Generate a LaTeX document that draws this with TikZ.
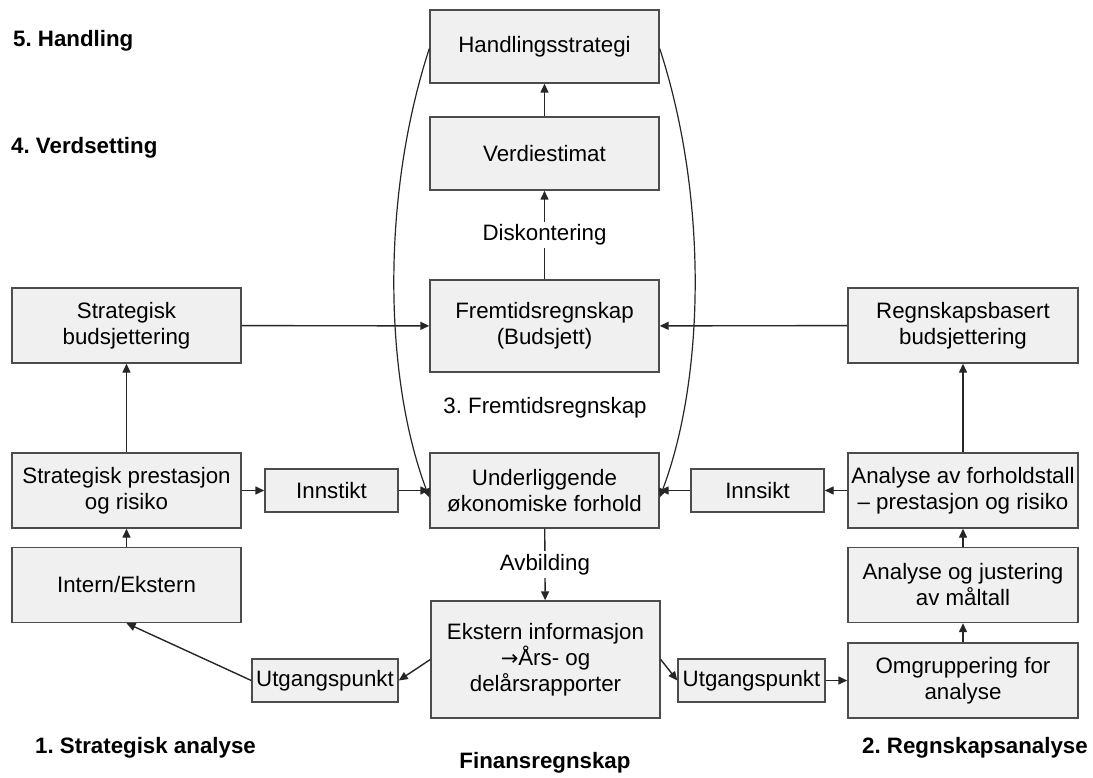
\documentclass[tikz,border=0pt]{standalone}
\usepackage{fontspec}
\setmainfont{Liberation Sans}
\newfontfamily\arrowfont{DejaVu Sans}
\usetikzlibrary{arrows.meta}
\frenchspacing
\begin{document}
\begin{tikzpicture}[x=1pt,y=-1pt,
  every node/.style={font=\fontsize{22.3}{26}\selectfont},
  box/.style={draw=black!70, fill=black!6, line width=1.4pt, align=center, inner sep=0pt},
  bigbox/.style={box, minimum width=229pt, minimum height=75pt},
  smallbox/.style={box, minimum height=43pt},
  arr/.style={-{Triangle[length=9pt,width=8pt]}, line width=1.4pt, draw=black!85},
  lbl/.style={fill=white, inner sep=3pt},
  region/.style={font=\fontsize{22.3}{26}\selectfont\bfseries, inner sep=0pt}
]
\useasboundingbox (0,0) rectangle (1093,778);

% center column
\node[bigbox, minimum height=73pt] (hs) at (544.5,46.5) {Handlingsstrategi};
\node[bigbox, minimum height=73pt] (ve) at (544.5,153.5) {Verdiestimat};
\node[bigbox, minimum height=92pt] (fr) at (544.5,326) {Fremtidsregnskap\\(Budsjett)};
\node[bigbox] (ul) at (544.5,490.5) {Underliggende\\økonomiske forhold};
\node[bigbox, minimum height=117pt] (ek) at (545.5,659.5) {Ekstern informasjon\\{\arrowfont\fontsize{21}{26}\selectfont →}Års- og\\delårsrapporter};

% left column
\node[bigbox] (sb) at (126.5,325.5) {Strategisk\\budsjettering};
\node[bigbox] (sp) at (126.5,490.5) {Strategisk prestasjon\\og risiko};
\node[bigbox] (ie) at (126.5,585) {Intern/Ekstern};

% right column
\node[bigbox, minimum width=230pt] (rb) at (963,325.5) {Regnskapsbasert\\budsjettering};
\node[bigbox, minimum width=230pt] (af) at (963,490.5) {Analyse av forholdstall\\-- prestasjon og risiko};
\node[bigbox, minimum width=230pt] (aj) at (963,585) {Analyse og justering\\av måltall};
\node[bigbox, minimum width=230pt] (om) at (963,680.5) {Omgruppering for\\analyse};

% small boxes
\node[smallbox, minimum width=133pt] (in1) at (331.5,490.5) {Innstikt};
\node[smallbox, minimum width=133pt] (in2) at (757.5,490.5) {Innsikt};
\node[smallbox, minimum width=146pt] (ut1) at (325,680.5) {Utgangspunkt};
\node[smallbox, minimum width=147pt] (ut2) at (751.5,680.5) {Utgangspunkt};

% region labels
\node[region, anchor=west] (r5) at (13,41) {5. Handling};
\node[region, anchor=west] (r4) at (11,148) {4. Verdsetting};
\node[region, anchor=west] (r1) at (35,748) {1. Strategisk analyse};
\node[region] (rf) at (545,763) {Finansregnskap};
\node[region, anchor=east] (r2) at (1088,748) {2. Regnskapsanalyse};
\node[inner sep=0pt] (r3) at (545,408) {3. Fremtidsregnskap};

% connectors
\draw[arr] (ve) -- (hs);
\draw[arr] (fr) -- node[lbl] {Diskontering} (ve);
\draw[arr] (sb) -- (fr);
\draw[arr] (rb) -- (fr);
\draw[arr] (sp) -- (sb);
\draw[arr] (ie) -- (sp);
\draw[arr] (sp) -- (in1);
\draw[arr] (in1) -- (ul);
\draw[arr] (af) -- (in2);
\draw[arr] (in2) -- (ul);
\draw[arr] (af) -- (rb);
\draw[arr] (aj) -- (af);
\draw[arr] (om) -- (aj);
\draw[arr] (ul) -- node[lbl] {Avbilding} (ek);
\draw[arr] (ek.west) -- (ut1.east);
\draw[arr] (ut1.west) -- (ie.south);
\draw[arr] (ek.east) -- (ut2.west);
\draw[arr] (ut2) -- (om);

\coordinate (ulL) at ([yshift=-7pt]ul.west);
\coordinate (ulR) at ([yshift=-7pt]ul.east);
\draw[arr, line width=1.2pt] ([yshift=-2pt]hs.west) .. controls (380,200) and (385,380) .. (ulL);
\draw[arr, line width=1.2pt] ([yshift=-2pt]hs.east) .. controls (709,200) and (704,380) .. (ulR);
\end{tikzpicture}
\end{document}
